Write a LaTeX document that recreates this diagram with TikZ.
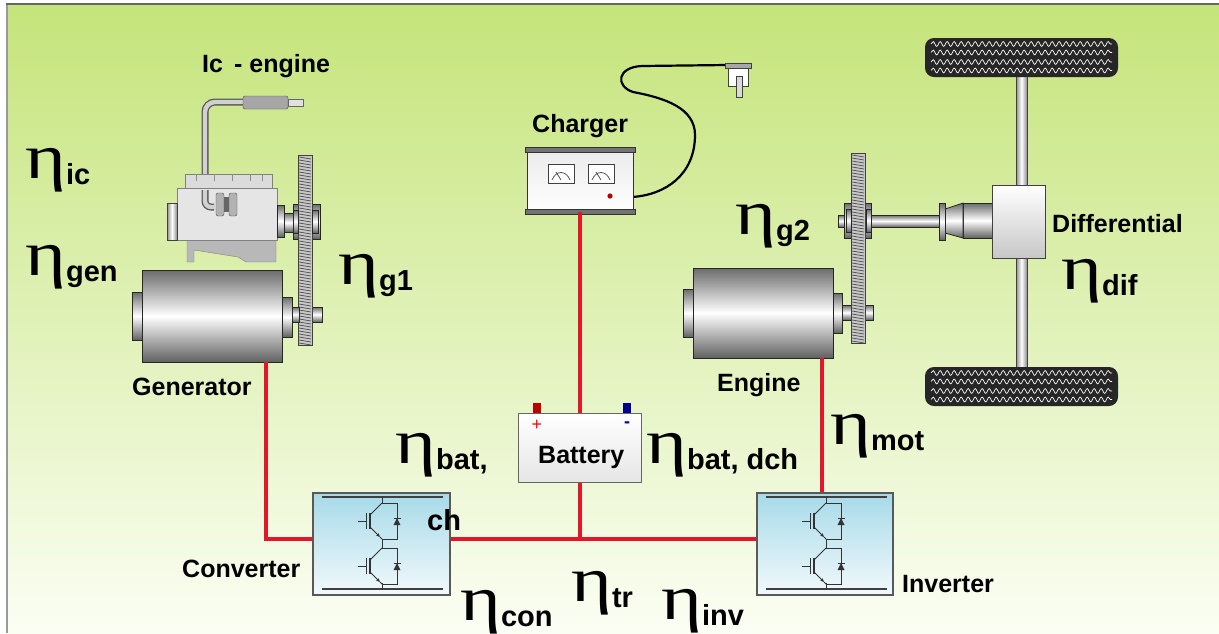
\documentclass[tikz,border=0pt]{standalone}
\usepackage{fontspec}
\setmainfont{Liberation Sans}
\newfontfamily\grkfont{Liberation Serif}
\usetikzlibrary{decorations.pathmorphing, arrows.meta}

% efficiency label: large eta with a bold subscript
\newcommand\effsym[1]{{\fontsize{64}{64}\selectfont\grkfont\scalebox{1.22}[1]{η}}\raisebox{-6pt}{\fontsize{29}{29}\selectfont\bfseries #1}}

\definecolor{bgtop}{RGB}{197,228,122}
\definecolor{bgbot}{RGB}{251,254,244}
\definecolor{wirered}{RGB}{228,22,42}
\definecolor{boxtop}{RGB}{166,218,232}
\definecolor{boxbot}{RGB}{242,249,252}

\tikzset{
  lbl/.style={anchor=base west, inner sep=0pt, font=\fontsize{25}{25}\selectfont\bfseries},
  eff/.style={anchor=base west, inner sep=0pt},
  wire/.style={draw=wirered, line width=3.2pt},
  cyl/.style={draw=black!85, line width=0.8pt, top color=black!58, bottom color=black!62, middle color=white},
  vcyl/.style={draw=black!75, line width=0.7pt, left color=black!45, right color=black!45, middle color=white},
  swbox/.style={draw=black!65, line width=1.4pt, top color=boxtop, bottom color=boxbot, inner sep=0pt},
  sw/.style={draw=black!80, line width=1pt},
  rail/.style={draw=black!75, line width=1.5pt},
  tread/.style={draw=white, line width=0.7pt, decorate, decoration={snake, amplitude=2.4pt, segment length=7pt}},
  igbtcell/.pic={
    \draw[sw] (0,0) -- (15,0) -- (15,36) -- (0,36);
    \fill[black!80] (11.5,22) -- (18.5,22) -- (15,15) -- cycle;
    \draw[sw] (11.5,15) -- (18.5,15);
    \draw[sw] (0,0) -- (-12,12);
    \draw[sw, -{Stealth[length=4pt,width=3.5pt]}] (-12,24) -- (-2,34);
    \draw[sw] (-2,34) -- (0,36);
    \draw[sw, line width=2.4pt] (-12,10) -- (-12,26);
    \draw[sw] (-15.5,10) -- (-15.5,26);
    \draw[sw] (-24,18) -- (-15.5,18);
  },
  switches/.pic={
    \draw[rail] (9,4) -- (130,4);
    \draw[rail] (9,96) -- (130,96);
    \draw[sw] (69,4) -- (69,10);
    \draw[sw] (69,46) -- (69,55);
    \draw[sw] (69,90) -- (69,96);
    \pic at (69,10) {igbtcell};
    \pic at (69,55) {igbtcell};
  },
  gear/.pic={
    % thin toothed wheel seen edge-on, 14 wide and 190 high
    \fill[black!22] (0,0) rectangle (14,190);
    \foreach \k in {2,5,...,188} \draw[black!70, line width=0.7pt] (1,\k) -- (13,\k+2);
    \draw[black!75, line width=0.9pt] (0,0) rectangle (14,190);
  },
  tire/.pic={
    \fill[black!85, rounded corners=9pt] (0,0) rectangle (193,39);
    \foreach \r in {6,14.5,24,32.5} \draw[tread] (6,\r) -- (187,\r);
  }
}

\begin{document}
\begin{tikzpicture}[x=1pt, y=-1pt]
\useasboundingbox (0,0) rectangle (1219,633);

% page and frame
\fill[white] (0,0) rectangle (1219,633);
\shade[top color=bgtop, bottom color=bgbot] (6,4) rectangle (1219,633);
\draw[black!40, line width=2pt] (6.5,4) -- (6.5,633);
\draw[black!60, line width=2.5pt] (6,4) -- (1219,4);

% ---------------- combustion engine ----------------
% exhaust pipe and muffler
\draw[black!65, line width=7pt, rounded corners=10pt] (224,207) -- (205,207) -- (205,102) -- (246,102);
\draw[black!18, line width=4.4pt, rounded corners=10pt] (224,207) -- (205,207) -- (205,102) -- (246,102);
\draw[fill=black!35, draw=black!70, rounded corners=1.5pt] (243,96) rectangle (288,109);
\draw[fill=black!12, draw=black!60] (288,99) rectangle (303,106);
% block
\draw[fill=black!14, draw=black!50] (185,174) rectangle (272,188);
\foreach \fx in {196,214,232,250,262} \draw[black!45] (\fx,174) -- (\fx,181);
\draw[fill=black!28, draw=black!50] (187,240) -- (276,240) -- (276,262) -- (246,262) -- (238,257) -- (194,250) -- (194,262) -- (187,262) -- cycle;
\draw[fill=black!10, draw=black!50] (177,188) rectangle (277,240);
\draw[vcyl] (167,203) rectangle (177,240);
% manifold clamp
\draw[fill=black!30, draw=black!70, rounded corners=2pt] (216,193) rectangle (224,216);
\draw[fill=black!30, draw=black!70, rounded corners=2pt] (229,193) rectangle (237,216);
\fill[black!60] (224,197) rectangle (229,212);
\draw[black!65, line width=7pt, rounded corners=6pt] (205,190) -- (205,207) -- (214,207);
\draw[black!18, line width=4.4pt, rounded corners=6pt] (205,190) -- (205,207) -- (216,207);
% output shaft and gear of the engine
\draw[cyl] (277,205) rectangle (284,237);
\draw[cyl] (284,213) rectangle (300,232);
\draw[cyl] (293,204) rectangle (320,239);
\draw[cyl] (300,307) rectangle (322,322);
\pic at (298,155) {gear};
\draw[cyl] (293,210) rectangle (298,233);
\draw[cyl] (312,210) rectangle (318,233);

% ---------------- generator ----------------
\draw[cyl] (132,292) rectangle (142,340);
\node[cyl, minimum width=140pt, minimum height=92pt, inner sep=0pt] (gen) at (212,316) {};
\draw[cyl] (282,297) rectangle (292,337);
\draw[cyl] (292,307) rectangle (299,322);

% ---------------- traction motor ----------------
\draw[cyl] (838,215) rectangle (942,227);
\draw[cyl] (844,203) rectangle (871,238);
\draw[cyl] (683,289) rectangle (693,337);
\node[cyl, minimum width=140pt, minimum height=90pt, inner sep=0pt] (mot) at (763,313) {};
\draw[cyl] (833,293) rectangle (842,333);
\draw[cyl] (842,305) rectangle (873,320);
\pic at (851,153) {gear};
\draw[cyl] (846,209) rectangle (851,232);
\draw[cyl] (866,209) rectangle (871,232);

% ---------------- axle and differential ----------------
\draw[vcyl] (1016,76) rectangle (1027,368);
\pic at (925,38) {tire};
\pic at (925,367) {tire};
\draw[cyl] (963,203) rectangle (993,238);
\draw[cyl] (945,209) -- (963,203) -- (963,238) -- (945,233) -- cycle;
\draw[cyl] (939,203) rectangle (945,240);
\node[draw=black!75, line width=0.8pt, top color=white, bottom color=black!22, minimum width=53pt, minimum height=73pt, inner sep=0pt] (dif) at (1018.5,221.5) {};

% ---------------- charger ----------------
\draw[black, line width=2.2pt] (632,197) .. controls (665,195) and (695,175) .. (695,135)
  .. controls (695,108) and (665,98) .. (633,92) .. controls (615,86) and (617,67) .. (642,66) -- (727,65);
\node[draw=black!80, line width=0.8pt, top color=black!8, bottom color=white, minimum width=106pt, minimum height=62pt, inner sep=0pt] (charger) at (580,180.5) {};
\draw[fill=black!55, draw=black!80] (525,147) rectangle (635,152);
\draw[fill=black!55, draw=black!80] (525,209) rectangle (635,214);
\foreach \mx in {548,588} {
  \draw[fill=white, draw=black!75, line width=0.9pt] (\mx,164) rectangle (\mx+26,183);
  \draw[black!65, line width=0.8pt] (\mx+4,180) .. controls (\mx+8,170) and (\mx+18,170) .. (\mx+22,180);
  \draw[black!65, line width=0.8pt] (\mx+13,180) -- (\mx+8,172);
}
\fill[red!75!black] (610,196) circle (2.6pt);
% mains plug
\draw[fill=black!35, draw=black!75] (725,63) rectangle (751,68);
\draw[fill=white, draw=black!75] (728,68) rectangle (748,86);
\draw[fill=black!15, draw=black!75] (736,76) rectangle (742,97);

% ---------------- battery ----------------
\fill[red!75!black] (533,403) rectangle (541,413);
\fill[blue!55!black] (623,403) rectangle (631,413);
\node[draw=black!60, line width=1pt, top color=white, bottom color=black!10, minimum width=123pt, minimum height=69pt, inner sep=0pt] (bat) at (580,447.5) {};
\node[inner sep=0pt, text=red, font=\fontsize{18}{18}\selectfont] at (537,425) {+};
\node[inner sep=0pt, text=blue!70!black, font=\fontsize{18}{18}\selectfont\bfseries] at (627,425) {-};

% ---------------- converter and inverter ----------------
\node[swbox, minimum width=137pt, minimum height=102pt] (conv) at (381.5,544) {};
\pic at (313,493) {switches};
\node[swbox, minimum width=136pt, minimum height=102pt] (inv) at (825,544) {};
\pic at (757,493) {switches};

% ---------------- electrical connections ----------------
\coordinate (genout) at ([xshift=54pt]gen.south);
\coordinate (motout) at ([xshift=59pt]mot.south);
\coordinate (convL) at ([yshift=5pt]conv.west);
\coordinate (convR) at ([yshift=5pt]conv.east);
\coordinate (invL) at ([yshift=5pt]inv.west);
\draw[wire] (genout) |- (convL);
\draw[wire] (convR) -- (invL);
\draw[wire] (charger.south) -- (bat.north);
\draw[wire] (bat.south) -- (bat.south |- convR);
\draw[wire] (motout) -- (motout |- inv.north);

% ---------------- labels ----------------
\node[lbl] (lice) at (202,72) {Ic\, - engine};
\node[lbl] (lchg) at (532,132) {Charger};
\node[lbl] (lgen) at (132,395) {Generator};
\node[lbl] (lmot) at (717,391) {Engine};
\node[lbl] (ldif) at (1052,232) {Differential};
\node[lbl] (lbat) at (538,463) {Battery};
\node[lbl] (lconv) at (182,577) {Converter};
\node[lbl] (linv) at (902,592) {Inverter};

% ---------------- efficiencies ----------------
\node[eff] (eic) at (25,178) {\effsym{ic}};
\node[eff] (egen) at (25,275) {\effsym{gen}};
\node[eff] (eg1) at (338,284) {\effsym{g1}};
\node[eff] (eg2) at (735,234) {\effsym{g2}};
\node[eff] (edif) at (1061,289) {\effsym{dif}};
\node[eff] (emot) at (830,444) {\effsym{mot}};
\node[eff] (ebch) at (395,463) {\effsym{bat,}};
\node[lbl, font=\fontsize{29}{29}\selectfont\bfseries] (ech) at (427,530) {ch};
\node[eff] (ebdch) at (646,463) {\effsym{bat, dch}};
\node[eff] (econ) at (460,620) {\effsym{con}};
\node[eff] (etr) at (571,601) {\effsym{tr}};
\node[eff] (einv) at (661,619) {\effsym{inv}};
\end{tikzpicture}
\end{document}
